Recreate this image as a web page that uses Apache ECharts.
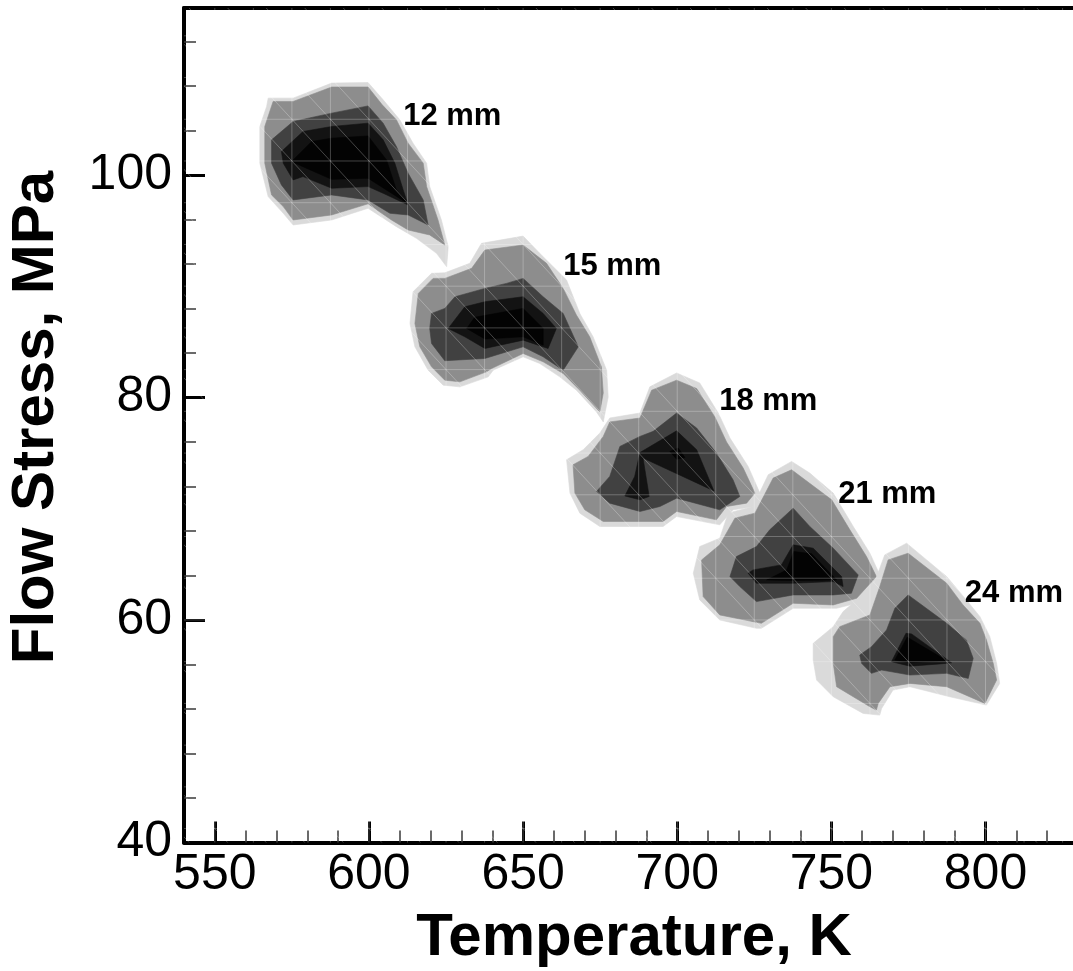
<!DOCTYPE html>
<html>
<head>
<meta charset="utf-8">
<script src="https://cdn.jsdelivr.net/npm/echarts@6/dist/echarts.min.js"></script>
<style>
  html, body { margin: 0; padding: 0; background: #ffffff; }
  #chart { width: 1073px; height: 971px; }
</style>
</head>
<body>
<div id="chart"></div>
<script>
// Gauge labels and where each one sits (Temperature K, Flow stress MPa)
const gaugeLabels = ['12 mm', '15 mm', '18 mm', '21 mm', '24 mm'];
const labelAnchors = [[611.1, 105.25], [663.0, 91.75], [713.6, 79.6], [752.2, 71.25], [793.3, 62.4]];

// Contour bands per gauge, outermost level first: [T (K), stress (MPa)] rings
const band12 = [
  [[567.3,106.9],[575.4,106.9],[587.9,108.25],[599.7,108.3],[604.6,106.75],[610.0,104.95],[614.3,102.85],[618.7,101.05],[619.7,98.95],[623.5,95.95],[625.7,93.55],[625.2,91.75],[621.9,92.95],[615.4,94.3],[608.9,95.35],[599.7,97.0],[587.9,95.95],[575.4,95.5],[572.2,96.55],[567.3,98.05],[564.6,101.05],[564.6,104.35],[566.8,106.15]],
  [[568.9,106.6],[575.4,106.6],[587.9,107.9],[599.7,107.9],[604.3,106.3],[608.9,104.95],[612.7,102.85],[617.6,101.05],[618.7,98.95],[622.4,95.95],[624.6,93.7],[619.7,94.6],[612.7,95.05],[607.3,95.95],[599.7,97.4],[587.9,96.4],[575.4,95.95],[572.2,97.15],[568.4,98.2],[566.2,101.05],[566.2,104.35]],
  [[568.4,103.15],[575.4,104.8],[587.9,105.55],[599.7,106.2],[604.6,104.65],[608.9,102.55],[612.7,100.15],[617.6,97.75],[619.2,95.5],[612.7,96.4],[606.8,96.55],[599.7,97.75],[587.9,98.2],[575.4,97.75],[571.6,99.1],[568.4,101.05]],
  [[571.6,102.1],[578.6,103.9],[587.9,104.35],[599.7,104.65],[604.6,103.15],[608.4,101.05],[611.1,98.65],[612.7,97.3],[604.6,98.35],[599.7,98.95],[587.9,98.8],[578.6,99.85],[575.4,99.55],[572.2,101.05]],
  [[574.9,101.2],[581.4,103.0],[587.9,103.3],[599.7,103.5],[605.7,101.35],[608.9,98.65],[612.7,97.4],[599.7,99.7],[587.9,99.6],[579.7,100.6]]
];
const band15 = [
  [[613.3,86.65],[614.3,89.5],[620.3,91.15],[624.6,91.2],[632.7,92.05],[636.5,93.85],[650.0,94.5],[655.4,92.95],[664.1,90.55],[668.4,87.55],[672.7,85.45],[677.1,82.45],[677.6,80.05],[676.0,77.8],[673.8,78.7],[667.3,80.65],[661.9,81.85],[655.4,83.05],[650.0,83.65],[640.3,82.45],[638.7,81.85],[629.5,80.95],[624.1,81.1],[619.2,82.45],[614.9,84.55]],
  [[614.9,86.65],[616.0,89.35],[620.8,90.7],[624.6,90.7],[633.3,91.6],[637.6,93.25],[650.0,93.7],[657.6,92.05],[663.0,89.8],[667.3,87.4],[671.6,85.45],[675.4,82.75],[676.0,80.4],[674.9,78.7],[668.4,80.65],[663.0,82.15],[656.5,83.2],[650.0,83.95],[639.8,82.6],[638.1,82.3],[629.5,81.4],[624.6,81.55],[620.3,82.75],[616.5,84.55]],
  [[619.7,86.2],[620.3,87.55],[624.6,88.0],[627.9,89.05],[637.6,89.8],[644.6,90.25],[650.0,90.7],[656.5,89.05],[663.0,87.55],[667.9,84.55],[663.0,82.45],[656.5,83.65],[650.0,84.55],[637.6,83.5],[624.6,83.3],[620.3,84.85]],
  [[625.7,86.2],[631.1,88.15],[637.6,88.6],[650.0,89.05],[656.5,87.55],[660.8,86.2],[658.1,84.4],[650.0,85.15],[637.6,84.4],[631.1,85.45]],
  [[631.7,86.2],[634.3,87.2],[650.0,88.0],[656.5,86.2],[656.5,84.7],[650.0,85.45],[637.6,85.25]]
];
const band18 = [
  [[664.1,74.4],[669.5,75.3],[674.9,76.8],[678.1,78.15],[687.9,78.6],[691.1,80.95],[699.8,82.2],[707.3,81.3],[713.3,78.6],[717.1,76.35],[723.0,73.8],[726.8,71.4],[725.2,70.2],[718.1,69.9],[713.8,68.55],[699.8,69.3],[695.4,68.4],[687.9,68.4],[674.9,68.4],[668.4,69.6],[665.2,71.4]],
  [[666.2,73.95],[671.1,74.7],[676.0,76.5],[678.1,77.8],[687.9,78.15],[691.7,80.65],[699.8,81.55],[706.3,80.8],[712.2,78.25],[716.0,76.0],[721.4,73.65],[725.2,71.4],[722.5,70.5],[716.0,70.2],[712.7,69.0],[699.8,69.75],[695.4,68.85],[687.9,68.85],[676.0,68.85],[670.0,69.9],[666.8,71.4]],
  [[673.8,71.55],[678.1,72.9],[681.4,75.6],[687.9,76.5],[692.2,76.95],[699.8,78.6],[706.3,77.25],[712.7,75.0],[718.1,72.6],[720.3,71.1],[713.8,69.9],[699.8,70.95],[694.4,70.2],[687.9,69.75],[678.1,70.5]],
  [[687.9,75.05],[699.8,77.0],[706.3,75.3],[711.9,71.6],[688.9,74.55],[690.9,71.1],[687.9,70.8],[683.0,71.15],[686.2,72.9]],
  [[697.6,75.15],[700.3,75.45],[702.5,74.6],[699.8,74.45]]
];
const band21 = [
  [[707.3,66.6],[713.8,67.35],[716.5,69.6],[724.6,70.2],[729.5,73.05],[737.1,74.25],[743.0,73.2],[750.6,71.4],[757.1,68.4],[762.5,66.0],[765.7,64.05],[758.2,61.5],[751.7,61.05],[737.6,61.05],[727.3,59.25],[725.7,59.25],[713.8,60.0],[707.3,61.8],[705.2,64.2]],
  [[707.9,65.4],[713.8,66.75],[718.7,69.15],[725.2,69.6],[731.1,72.75],[737.1,73.5],[750.1,70.8],[756.0,68.1],[761.4,65.7],[764.6,63.9],[758.2,61.95],[750.6,61.35],[737.6,61.5],[727.3,59.7],[713.8,60.45],[708.4,62.1]],
  [[717.1,63.9],[719.2,65.7],[725.7,66.6],[730.0,68.1],[737.6,70.05],[743.0,68.4],[750.6,66.45],[758.7,64.05],[756.5,62.4],[750.6,62.25],[737.6,62.25],[725.7,61.65],[720.3,63.0]],
  [[723.0,64.2],[724.6,64.5],[733.8,64.95],[737.6,66.75],[744.1,66.45],[753.3,63.9],[753.8,63.0],[750.6,63.45],[737.6,63.3],[725.7,63.3]],
  [[735.5,64.5],[737.8,66.15],[743.6,65.95],[751.7,63.6],[737.6,63.55],[729.0,63.6]]
];
const band24 = [
  [[744.1,57.9],[750.6,59.4],[753.8,60.75],[758.2,61.8],[764.1,63.45],[767.3,65.85],[774.4,66.9],[780.9,65.4],[787.4,63.9],[793.8,61.8],[798.2,60.3],[801.4,58.5],[803.6,56.1],[804.6,54.3],[800.3,52.35],[788.4,53.1],[775.5,54.0],[770.0,53.7],[766.3,52.05],[765.7,51.45],[760.3,51.6],[750.6,53.1],[745.2,54.6],[744.1,56.4]],
  [[750.6,58.5],[752.7,59.4],[762.5,60.45],[765.7,63.0],[768.4,65.4],[774.9,66.0],[787.4,63.3],[792.7,61.35],[798.2,59.7],[800.3,58.2],[802.5,56.1],[803.6,54.6],[799.8,52.5],[787.4,54.0],[775.5,54.3],[769.0,54.0],[765.2,52.5],[764.6,51.9],[762.5,52.2],[751.7,54.0],[750.6,56.1]],
  [[759.2,56.85],[763.0,57.6],[767.9,59.1],[770.6,61.05],[774.9,62.25],[787.4,59.7],[793.8,58.2],[796.0,56.55],[794.4,54.75],[787.4,55.2],[775.5,55.05],[766.3,55.5],[763.0,55.2],[759.8,56.1]],
  [[769.5,56.25],[774.2,58.8],[776.0,58.75],[789.0,56.15],[785.2,56.05],[775.5,55.85]],
  [[770.6,56.4],[774.6,58.45],[787.4,56.35],[775.5,56.15]]
];
const gaugeBands = [band12, band15, band18, band21, band24];

// Solver mesh nodes (cell edges in K and MPa)
const meshT = [537.5,550,562.5,575,587.5,600,612.5,625,637.5,650,662.5,675,687.5,700,712.5,725,737.5,750,762.5,775,787.5,800,812.5,825,837.5];
const meshS = [37.5,41.25,45,48.75,52.5,56.25,60,63.75,67.5,71.25,75,78.75,82.5,86.25,90,93.75,97.5,101.25,105,108.75,112.5,116.25];

// Axis ticks
const xTickValues = [550, 600, 650, 700, 750, 800];
const yTickValues = [40, 60, 80, 100];

const levelColors = ['#dadada', '#8d8d8d', '#414141', '#131313', '#030303'];
const fontFamily = '"Liberation Sans", Arial, Helvetica, sans-serif';

// Flatten bands into drawable polygons (level order keeps darker bands on top)
const polygons = [];
gaugeBands.forEach(function (bands) {
  bands.forEach(function (ring, level) {
    polygons.push({ ring: ring, level: level });
  });
});

// Mesh segments: verticals, horizontals and the cell diagonals
const meshSegments = [];
const sLo = meshS[0], sHi = meshS[meshS.length - 1];
const tLo = meshT[0], tHi = meshT[meshT.length - 1];
meshT.forEach(function (t) { meshSegments.push([t, sLo, t, sHi]); });
meshS.forEach(function (s) { meshSegments.push([tLo, s, tHi, s]); });
for (let i = 0; i < meshT.length - 1; i++) {
  for (let j = 0; j < meshS.length - 1; j++) {
    meshSegments.push([meshT[i], meshS[j + 1], meshT[i + 1], meshS[j]]);
  }
}

const chart = echarts.init(document.getElementById('chart'), null, { renderer: 'canvas' });

const axisLineStyle = { color: '#000', width: 4 };

chart.setOption({
  animation: false,
  backgroundColor: '#ffffff',
  grid: { left: 184, top: 8, width: 894, height: 834.5, outerBoundsMode: 'none', containLabel: false },
  xAxis: [{
    type: 'value', min: 540, max: 830,
    axisLine: { show: true, onZero: false, lineStyle: axisLineStyle },
    axisTick: { show: true, inside: true, length: 21, lineStyle: { color: '#000', width: 3 } },
    minorTick: { show: true, splitNumber: 5, length: 12, lineStyle: { color: '#3a3a3a', width: 1.5 } },
    axisLabel: {
      show: true, margin: 8, color: '#000', fontSize: 50, fontFamily: fontFamily,
      formatter: function (v) { return xTickValues.indexOf(v) >= 0 ? String(v) : ''; }
    },
    splitLine: { show: false }, minorSplitLine: { show: false }
  }, {
    type: 'value', position: 'top', min: 540, max: 830,
    axisLine: { show: true, onZero: false, lineStyle: axisLineStyle },
    axisTick: { show: false }, axisLabel: { show: false }, splitLine: { show: false }
  }],
  yAxis: [{
    type: 'value', min: 40, max: 115, interval: 20,
    axisLine: { show: true, onZero: false, lineStyle: axisLineStyle },
    axisTick: { show: true, inside: true, length: 21, lineStyle: { color: '#000', width: 3 } },
    minorTick: { show: true, splitNumber: 5, length: 12, lineStyle: { color: '#3a3a3a', width: 1.5 } },
    axisLabel: {
      show: true, margin: 12, color: '#000', fontSize: 50, fontFamily: fontFamily,
      formatter: function (v) { return yTickValues.indexOf(v) >= 0 ? String(v) : ''; }
    },
    splitLine: { show: false }, minorSplitLine: { show: false }
  }],
  graphic: [
    {
      type: 'text', x: 634, y: 938.5, silent: true,
      style: {
        text: 'Temperature, K', fill: '#000',
        font: 'bold 60px ' + fontFamily,
        align: 'center', verticalAlign: 'middle', textAlign: 'center', textVerticalAlign: 'middle'
      }
    },
    {
      type: 'text', x: 36.5, y: 417.5, rotation: Math.PI / 2, silent: true,
      style: {
        text: 'Flow Stress, MPa', fill: '#000',
        font: 'bold 60px ' + fontFamily,
        align: 'center', verticalAlign: 'middle', textAlign: 'center', textVerticalAlign: 'middle'
      }
    }
  ],
  series: [
    {
      // filled contour bands
      type: 'custom', xAxisIndex: 0, yAxisIndex: 0, clip: true, silent: true, z: 2,
      data: polygons.map(function (p) { return p.ring[0]; }),
      renderItem: function (params, api) {
        const p = polygons[params.dataIndex];
        return {
          type: 'polygon',
          shape: { points: p.ring.map(function (pt) { return api.coord(pt); }) },
          style: { fill: levelColors[p.level], stroke: levelColors[p.level], lineWidth: 0.6 }
        };
      }
    },
    {
      // triangulated mesh showing through the fills
      type: 'custom', xAxisIndex: 0, yAxisIndex: 0, clip: true, silent: true, z: 3,
      data: meshSegments,
      encode: { x: [0, 2], y: [1, 3] },
      renderItem: function (params, api) {
        const a = api.coord([api.value(0), api.value(1)]);
        const b = api.coord([api.value(2), api.value(3)]);
        return {
          type: 'line',
          shape: { x1: a[0], y1: a[1], x2: b[0], y2: b[1] },
          style: { stroke: 'rgba(255,255,255,0.26)', lineWidth: 1 }
        };
      }
    },
    {
      // gauge annotations
      type: 'custom', xAxisIndex: 0, yAxisIndex: 0, clip: false, silent: true, z: 4,
      data: labelAnchors,
      renderItem: function (params, api) {
        const c = api.coord([api.value(0), api.value(1)]);
        return {
          type: 'text', x: c[0], y: c[1],
          style: {
            text: gaugeLabels[params.dataIndex], fill: '#000',
            font: 'bold 31px ' + fontFamily,
            align: 'left', verticalAlign: 'middle'
          }
        };
      }
    }
  ]
});
</script>
</body>
</html>
